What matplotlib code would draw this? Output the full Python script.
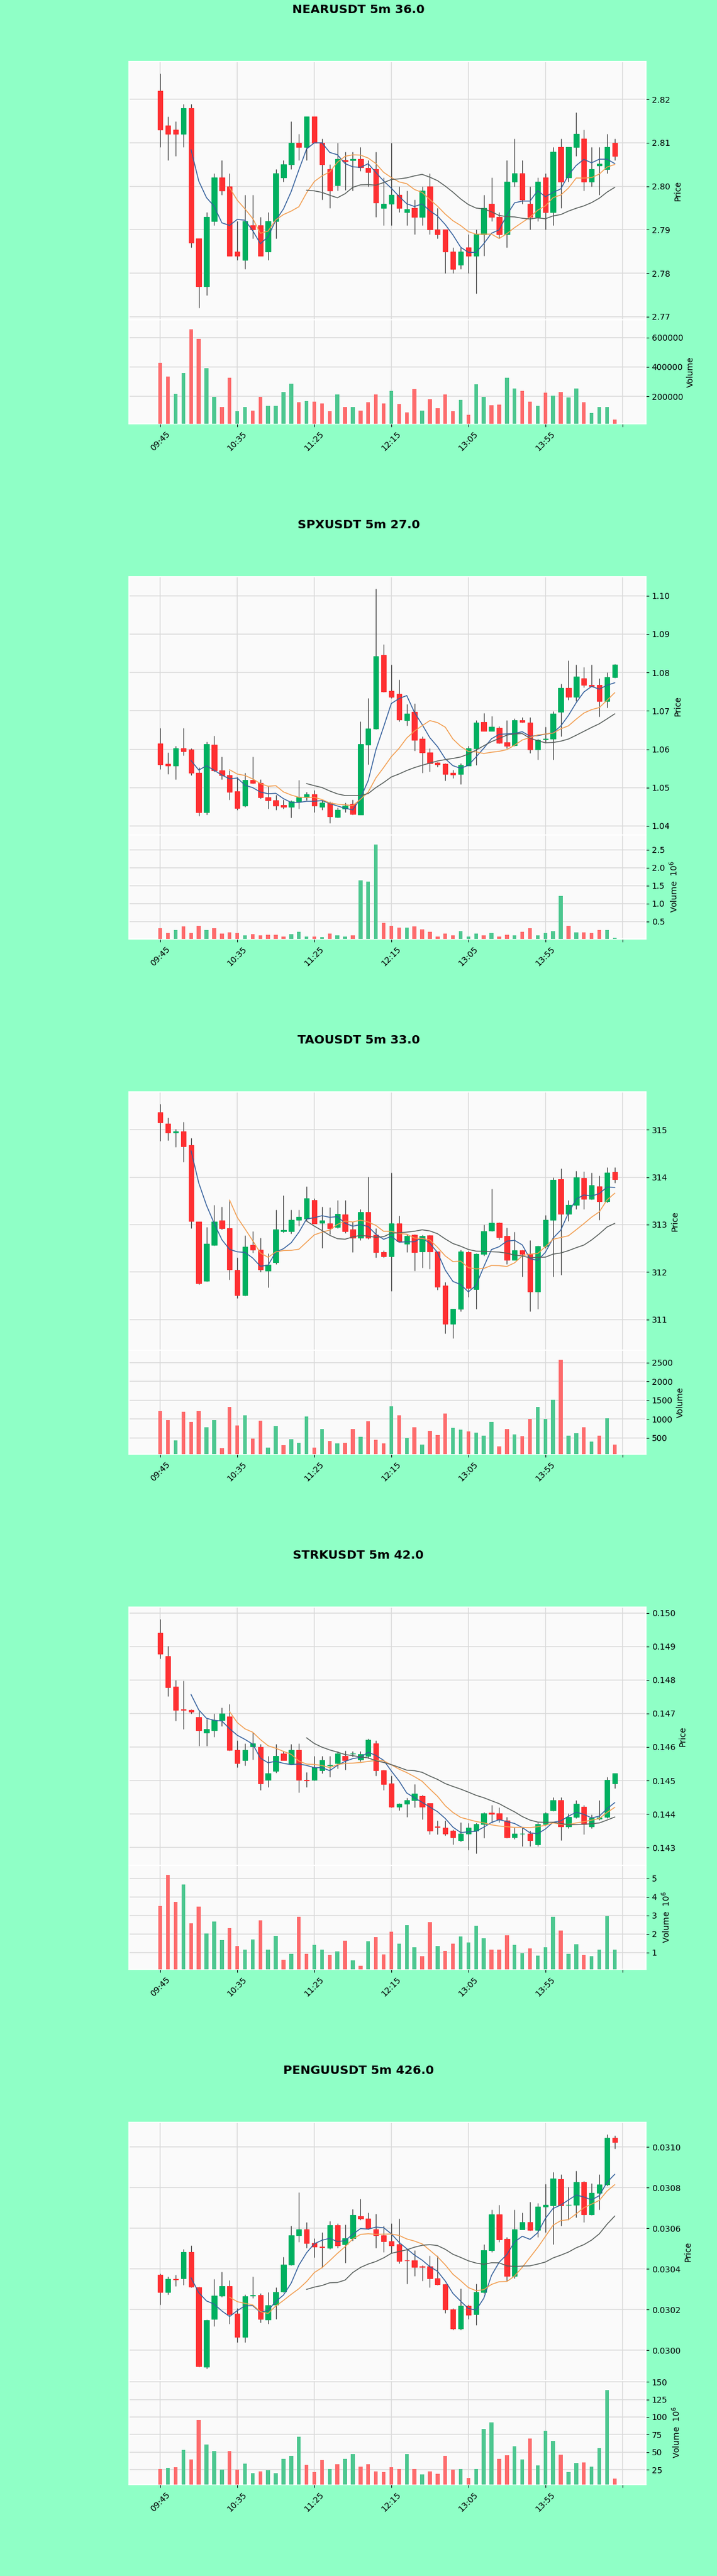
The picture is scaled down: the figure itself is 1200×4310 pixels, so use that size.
import matplotlib
matplotlib.use('Agg')
import matplotlib.pyplot as plt
import numpy as np
import pandas as pd

# ---- chart data (5 minute candles, 09:45 onwards) ----
tick_pos = [0, 10, 20, 30, 40, 50, 60]
tick_labels = ['09:45', '10:35', '11:25', '12:15', '13:05', '13:55', '']

titles = ['NEARUSDT 5m 36.0', 'SPXUSDT 5m 27.0', 'TAOUSDT 5m 33.0',
          'STRKUSDT 5m 42.0', 'PENGUUSDT 5m 426.0']

near_open = [2.822, 2.814, 2.813, 2.812, 2.818, 2.788, 2.777, 2.792, 2.802, 2.800,
             2.785, 2.783, 2.791, 2.791, 2.785, 2.792, 2.802, 2.805, 2.810, 2.809,
             2.816, 2.810, 2.804, 2.8002, 2.806, 2.806, 2.8063, 2.8042, 2.804, 2.795,
             2.796, 2.798, 2.794, 2.795, 2.793, 2.800, 2.790, 2.790, 2.785, 2.782,
             2.786, 2.784, 2.789, 2.796, 2.793, 2.789, 2.801, 2.803, 2.796, 2.793,
             2.802, 2.794, 2.809, 2.802, 2.809, 2.811, 2.801, 2.8048, 2.804, 2.810]
near_high = [2.826, 2.816, 2.815, 2.819, 2.819, 2.788, 2.794, 2.803, 2.806, 2.803,
             2.792, 2.798, 2.798, 2.793, 2.794, 2.804, 2.806, 2.815, 2.812, 2.816,
             2.816, 2.811, 2.805, 2.810, 2.808, 2.808, 2.809, 2.806, 2.808, 2.802,
             2.810, 2.800, 2.799, 2.797, 2.800, 2.803, 2.795, 2.790, 2.786, 2.786,
             2.789, 2.790, 2.798, 2.802, 2.794, 2.806, 2.811, 2.806, 2.800, 2.802,
             2.803, 2.809, 2.811, 2.809, 2.817, 2.813, 2.809, 2.809, 2.812, 2.811]
near_low = [2.809, 2.806, 2.807, 2.809, 2.786, 2.772, 2.775, 2.791, 2.798, 2.784,
            2.783, 2.781, 2.788, 2.784, 2.783, 2.788, 2.801, 2.804, 2.806, 2.806,
            2.810, 2.797, 2.795, 2.799, 2.7992, 2.799, 2.8035, 2.800, 2.793, 2.791,
            2.791, 2.794, 2.791, 2.789, 2.791, 2.789, 2.788, 2.780, 2.780, 2.781,
            2.780, 2.7754, 2.784, 2.792, 2.788, 2.786, 2.800, 2.796, 2.790, 2.792,
            2.790, 2.791, 2.795, 2.801, 2.807, 2.799, 2.800, 2.798, 2.803, 2.806]
near_close = [2.813, 2.812, 2.812, 2.818, 2.787, 2.777, 2.793, 2.802, 2.799, 2.784,
              2.784, 2.792, 2.790, 2.784, 2.792, 2.803, 2.805, 2.810, 2.809, 2.816,
              2.810, 2.805, 2.799, 2.8063, 2.8058, 2.8063, 2.8044, 2.8032, 2.7962, 2.7960,
              2.798, 2.795, 2.7948, 2.793, 2.799, 2.790, 2.789, 2.785, 2.781, 2.785,
              2.784, 2.789, 2.795, 2.793, 2.789, 2.801, 2.803, 2.797, 2.793, 2.801,
              2.794, 2.808, 2.801, 2.809, 2.812, 2.801, 2.804, 2.8052, 2.809, 2.807]
near_volume = [427000, 335000, 218000, 360000, 656000, 590000, 390000, 197000, 128000, 328000,
               100000, 128000, 103000, 197000, 135000, 135000, 228000, 287000, 159000, 167000,
               163000, 153000, 100000, 214000, 126000, 128000, 103000, 159000, 214000, 152000,
               236000, 149000, 91000, 250000, 103000, 181000, 117000, 214000, 100000, 177000,
               73000, 280000, 197000, 139000, 145000, 328000, 252000, 236000, 163000, 135000,
               225000, 204000, 228000, 193000, 252000, 159000, 87000, 126000, 126000, 43000]

spx_open = [1.0615, 1.0562, 1.0557, 1.0603, 1.0599, 1.0539, 1.0436, 1.0611, 1.0544, 1.0532,
            1.0490, 1.0452, 1.0520, 1.0512, 1.0474, 1.0467, 1.0454, 1.0450, 1.0463, 1.0474,
            1.0482, 1.0450, 1.0460, 1.0423, 1.0445, 1.0458, 1.0430, 1.0611, 1.0654, 1.0846,
            1.0752, 1.0744, 1.0675, 1.0698, 1.0627, 1.0592, 1.0565, 1.0562, 1.0538, 1.0535,
            1.0557, 1.0602, 1.0671, 1.0648, 1.0656, 1.0618, 1.0610, 1.0675, 1.0669, 1.0599,
            1.0625, 1.0627, 1.0698, 1.0760, 1.0737, 1.0784, 1.0767, 1.0768, 1.0725, 1.0788]
spx_high = [1.0656, 1.0592, 1.0609, 1.0656, 1.0603, 1.0553, 1.0619, 1.0635, 1.0580, 1.0544,
            1.0528, 1.0538, 1.0581, 1.0522, 1.0502, 1.0481, 1.0469, 1.0467, 1.0520, 1.0488,
            1.0494, 1.0467, 1.0464, 1.0448, 1.0461, 1.0469, 1.0673, 1.0733, 1.1019, 1.0873,
            1.0820, 1.0782, 1.0717, 1.0720, 1.0633, 1.0602, 1.0566, 1.0564, 1.0547, 1.0563,
            1.0608, 1.0675, 1.0695, 1.0686, 1.0660, 1.0675, 1.0680, 1.0684, 1.0684, 1.0627,
            1.0659, 1.0699, 1.0771, 1.0832, 1.0820, 1.0815, 1.0820, 1.0784, 1.0801, 1.0822]
spx_low = [1.0548, 1.0535, 1.0522, 1.0583, 1.0532, 1.0426, 1.0430, 1.0541, 1.0522, 1.0468,
           1.0442, 1.0449, 1.0510, 1.0471, 1.0445, 1.0442, 1.0445, 1.0422, 1.0445, 1.0467,
           1.0436, 1.0442, 1.0407, 1.0422, 1.0436, 1.0430, 1.0430, 1.0560, 1.0653, 1.0749,
           1.0733, 1.0672, 1.0662, 1.0596, 1.0538, 1.0541, 1.0554, 1.0518, 1.0525, 1.0509,
           1.0557, 1.0559, 1.0647, 1.0647, 1.0615, 1.0602, 1.0609, 1.0669, 1.0590, 1.0573,
           1.0616, 1.0573, 1.0634, 1.0729, 1.0726, 1.0761, 1.0763, 1.0685, 1.0708, 1.0786]
spx_close = [1.0560, 1.0557, 1.0603, 1.0594, 1.0538, 1.0436, 1.0613, 1.0544, 1.0532, 1.0488,
             1.0447, 1.0520, 1.0512, 1.0474, 1.0467, 1.0452, 1.0450, 1.0463, 1.0474, 1.0482,
             1.0452, 1.0460, 1.0424, 1.0442, 1.0452, 1.0431, 1.0613, 1.0654, 1.0843, 1.0750,
             1.0736, 1.0677, 1.0693, 1.0624, 1.0592, 1.0564, 1.0560, 1.0535, 1.0534, 1.0558,
             1.0603, 1.0669, 1.0648, 1.0658, 1.0616, 1.0608, 1.0675, 1.0671, 1.0599, 1.0624,
             1.0627, 1.0693, 1.0760, 1.0737, 1.0789, 1.0767, 1.0765, 1.0725, 1.0788, 1.0821]
spx_volume = [310000, 190000, 270000, 370000, 190000, 390000, 270000, 310000, 170000, 200000,
              190000, 120000, 150000, 120000, 140000, 140000, 90000, 150000, 220000, 90000,
              90000, 70000, 160000, 120000, 90000, 120000, 1650000, 1610000, 2650000, 460000,
              390000, 340000, 340000, 360000, 290000, 220000, 90000, 160000, 120000, 240000,
              90000, 160000, 120000, 190000, 90000, 140000, 120000, 220000, 310000, 120000,
              180000, 240000, 1220000, 390000, 200000, 200000, 180000, 260000, 270000, 50000]

tao_open = [315.37, 315.13, 314.94, 314.97, 314.67, 313.06, 311.81, 312.57, 313.09, 312.92,
            312.04, 311.51, 312.57, 312.47, 312.03, 312.20, 312.86, 312.86, 313.10, 313.12,
            313.52, 313.04, 313.03, 312.95, 313.21, 312.90, 312.72, 313.26, 312.78, 312.42,
            312.33, 313.03, 312.60, 312.78, 312.43, 312.77, 312.43, 311.71, 310.91, 311.22,
            312.42, 311.64, 312.38, 312.87, 313.04, 312.76, 312.25, 312.46, 312.38, 311.59,
            312.55, 313.10, 313.96, 313.23, 313.41, 313.98, 313.54, 313.81, 313.49, 314.11]
tao_high = [315.55, 315.25, 315.02, 315.17, 314.83, 313.06, 312.95, 313.41, 313.38, 313.51,
            312.30, 312.77, 312.86, 312.72, 312.40, 313.31, 313.62, 313.31, 313.31, 313.80,
            313.56, 313.38, 313.36, 313.52, 313.52, 313.06, 313.33, 314.01, 312.92, 312.46,
            314.09, 313.19, 312.80, 312.80, 312.78, 312.78, 312.43, 311.79, 311.22, 312.47,
            312.45, 312.40, 313.00, 313.75, 313.05, 312.94, 312.85, 312.47, 312.67, 312.56,
            313.20, 314.00, 314.19, 313.51, 314.14, 314.12, 314.10, 314.03, 314.21, 314.21]
tao_low = [314.76, 314.78, 314.64, 314.32, 312.92, 311.74, 311.80, 312.56, 312.90, 311.84,
           311.45, 311.50, 312.41, 312.00, 311.67, 312.17, 312.83, 312.81, 312.98, 313.08,
           313.02, 312.51, 312.80, 312.92, 312.82, 312.42, 312.67, 312.70, 312.30, 312.30,
           311.60, 312.63, 312.42, 312.03, 312.09, 312.07, 311.63, 310.71, 310.60, 311.17,
           311.47, 311.22, 312.35, 312.86, 312.69, 312.17, 312.25, 311.90, 311.17, 311.22,
           312.51, 311.90, 311.94, 313.07, 313.33, 313.33, 313.53, 313.10, 313.47, 313.88]
tao_close = [315.16, 314.94, 314.96, 314.65, 313.07, 311.77, 312.59, 313.06, 312.92, 312.05,
             311.51, 312.53, 312.47, 312.05, 312.16, 312.90, 312.88, 313.10, 313.16, 313.56,
             313.03, 313.09, 312.93, 313.23, 312.86, 312.72, 313.26, 312.72, 312.42, 312.33,
             313.03, 312.65, 312.76, 312.42, 312.76, 312.43, 311.69, 310.91, 311.22, 312.43,
             311.66, 312.38, 312.86, 313.04, 312.73, 312.25, 312.46, 312.38, 311.59, 312.55,
             313.10, 313.95, 313.23, 313.41, 314.00, 313.54, 313.83, 313.49, 314.10, 313.96]
tao_volume = [1218, 977, 436, 1199, 925, 1218, 782, 977, 228, 1329,
              827, 1107, 482, 958, 241, 808, 306, 469, 371, 1068,
              241, 730, 423, 358, 371, 730, 534, 938, 456, 358,
              1336, 1107, 502, 775, 319, 684, 580, 1153, 762, 717,
              678, 632, 567, 925, 274, 730, 599, 547, 1010, 1316,
              1003, 1511, 2573, 554, 619, 782, 404, 567, 1023, 326]

strk_open = [0.14940, 0.14871, 0.14780, 0.14712, 0.14710, 0.14689, 0.14642, 0.14649, 0.14680, 0.14691,
             0.14591, 0.14560, 0.14602, 0.14600, 0.14501, 0.14529, 0.14580, 0.14550, 0.14591, 0.14502,
             0.14501, 0.14531, 0.14545, 0.14551, 0.14573, 0.14580, 0.14562, 0.14573, 0.14610, 0.14531,
             0.14491, 0.14421, 0.14431, 0.14442, 0.14453, 0.14432, 0.14362, 0.14360, 0.14351, 0.14322,
             0.14341, 0.14351, 0.14370, 0.14403, 0.14402, 0.14380, 0.14331, 0.14341, 0.14341, 0.14309,
             0.14370, 0.14411, 0.14442, 0.14362, 0.14391, 0.14421, 0.14362, 0.14386, 0.14391, 0.14491]
strk_high = [0.14982, 0.14902, 0.14800, 0.14798, 0.14712, 0.14707, 0.14683, 0.14700, 0.14718, 0.14729,
             0.14620, 0.14610, 0.14642, 0.14609, 0.14573, 0.14609, 0.14587, 0.14609, 0.14611, 0.14525,
             0.14573, 0.14573, 0.14573, 0.14587, 0.14589, 0.14587, 0.14587, 0.14625, 0.14620, 0.14533,
             0.14514, 0.14433, 0.14449, 0.14489, 0.14458, 0.14432, 0.14380, 0.14380, 0.14354, 0.14376,
             0.14373, 0.14373, 0.14405, 0.14427, 0.14420, 0.14391, 0.14360, 0.14360, 0.14351, 0.14376,
             0.14405, 0.14451, 0.14451, 0.14402, 0.14442, 0.14427, 0.14398, 0.14442, 0.14511, 0.14522]
strk_low = [0.14864, 0.14751, 0.14678, 0.14653, 0.14700, 0.14603, 0.14603, 0.14631, 0.14663, 0.14589,
            0.14540, 0.14545, 0.14562, 0.14471, 0.14480, 0.14523, 0.14560, 0.14548, 0.14464, 0.14480,
            0.14500, 0.14522, 0.14511, 0.14536, 0.14533, 0.14572, 0.14558, 0.14566, 0.14514, 0.14471,
            0.14420, 0.14411, 0.14391, 0.14420, 0.14384, 0.14340, 0.14340, 0.14336, 0.14309, 0.14318,
            0.14293, 0.14282, 0.14329, 0.14373, 0.14376, 0.14329, 0.14325, 0.14304, 0.14304, 0.14304,
            0.14367, 0.14409, 0.14322, 0.14358, 0.14387, 0.14340, 0.14358, 0.14383, 0.14387, 0.14477]
strk_close = [0.14878, 0.14778, 0.14710, 0.14711, 0.14705, 0.14649, 0.14653, 0.14680, 0.14700, 0.14591,
              0.14551, 0.14591, 0.14610, 0.14491, 0.14522, 0.14573, 0.14560, 0.14591, 0.14501, 0.14500,
              0.14540, 0.14560, 0.14546, 0.14580, 0.14560, 0.14581, 0.14579, 0.14622, 0.14531, 0.14489,
              0.14421, 0.14431, 0.14442, 0.14460, 0.14421, 0.14351, 0.14361, 0.14341, 0.14331, 0.14341,
              0.14360, 0.14370, 0.14402, 0.14401, 0.14384, 0.14331, 0.14341, 0.14342, 0.14322, 0.14370,
              0.14402, 0.14442, 0.14362, 0.14391, 0.14431, 0.14370, 0.14387, 0.14390, 0.14501, 0.14522]
strk_volume = [3510000, 5190000, 3740000, 4660000, 2560000, 3470000, 2020000, 2680000, 1660000, 2300000,
               1330000, 1140000, 1690000, 2720000, 1140000, 1890000, 610000, 910000, 2940000, 940000,
               1400000, 1140000, 870000, 1040000, 1620000, 580000, 280000, 1600000, 1820000, 900000,
               2130000, 1470000, 2480000, 1290000, 810000, 2650000, 1360000, 1100000, 1490000, 1860000,
               1530000, 2460000, 1760000, 1140000, 1160000, 1930000, 1400000, 960000, 1230000, 830000,
               1270000, 2920000, 2190000, 910000, 1430000, 870000, 810000, 1140000, 2960000, 1140000]

pengu_open = [0.030372, 0.030286, 0.030350, 0.030352, 0.030484, 0.030310, 0.029918, 0.030153, 0.030267, 0.030316,
              0.030181, 0.030065, 0.030268, 0.030270, 0.030149, 0.030225, 0.030289, 0.030422, 0.030566, 0.030595,
              0.030527, 0.030508, 0.030502, 0.030614, 0.030520, 0.030551, 0.030659, 0.030647, 0.030595, 0.030566,
              0.030535, 0.030520, 0.030442, 0.030442, 0.030411, 0.030412, 0.030352, 0.030325, 0.030201, 0.030105,
              0.030219, 0.030177, 0.030286, 0.030490, 0.030667, 0.030547, 0.030366, 0.030595, 0.030631, 0.030590,
              0.030707, 0.030713, 0.030840, 0.030715, 0.030716, 0.030828, 0.030667, 0.030773, 0.030816, 0.031045]
pengu_high = [0.030376, 0.030361, 0.030370, 0.030496, 0.030514, 0.030312, 0.030150, 0.030349, 0.030386, 0.030343,
              0.030207, 0.030274, 0.030361, 0.030279, 0.030286, 0.030310, 0.030460, 0.030611, 0.030776, 0.030629,
              0.030551, 0.030580, 0.030635, 0.030623, 0.030617, 0.030694, 0.030743, 0.030677, 0.030671, 0.030611,
              0.030623, 0.030647, 0.030496, 0.030490, 0.030418, 0.030466, 0.030466, 0.030328, 0.030207, 0.030303,
              0.030225, 0.030328, 0.030520, 0.030691, 0.030715, 0.030556, 0.030691, 0.030677, 0.030731, 0.030725,
              0.030819, 0.030876, 0.030864, 0.030804, 0.030882, 0.030834, 0.030822, 0.030864, 0.031063, 0.031057]
pengu_low = [0.030225, 0.030274, 0.030316, 0.030322, 0.030310, 0.029918, 0.029908, 0.030117, 0.030261, 0.030129,
             0.030039, 0.030039, 0.030255, 0.030135, 0.030129, 0.030153, 0.030286, 0.030418, 0.030533, 0.030503,
             0.030455, 0.030407, 0.030496, 0.030502, 0.030431, 0.030539, 0.030641, 0.030593, 0.030502, 0.030482,
             0.030478, 0.030427, 0.030328, 0.030364, 0.030340, 0.030310, 0.030322, 0.030183, 0.030099, 0.030100,
             0.030153, 0.030123, 0.030280, 0.030484, 0.030533, 0.030342, 0.030352, 0.030593, 0.030587, 0.030556,
             0.030580, 0.030521, 0.030611, 0.030641, 0.030653, 0.030629, 0.030665, 0.030692, 0.030810, 0.030990]
pengu_close = [0.030286, 0.030349, 0.030347, 0.030484, 0.030313, 0.029920, 0.030147, 0.030267, 0.030316, 0.030177,
               0.030065, 0.030265, 0.030272, 0.030153, 0.030222, 0.030286, 0.030422, 0.030566, 0.030595, 0.030527,
               0.030508, 0.030507, 0.030614, 0.030514, 0.030551, 0.030665, 0.030647, 0.030599, 0.030566, 0.030535,
               0.030514, 0.030439, 0.030441, 0.030410, 0.030410, 0.030354, 0.030325, 0.030201, 0.030105, 0.030219,
               0.030174, 0.030286, 0.030490, 0.030667, 0.030545, 0.030364, 0.030595, 0.030631, 0.030590, 0.030707,
               0.030716, 0.030843, 0.030713, 0.030716, 0.030828, 0.030667, 0.030773, 0.030816, 0.031045, 0.031024]
pengu_volume = [26.2e6, 27.3e6, 28.3e6, 52.8e6, 39.5e6, 95.5e6, 60.5e6, 51.7e6, 24.8e6, 51.7e6,
                24.8e6, 33.2e6, 20.3e6, 22.7e6, 23.8e6, 20.3e6, 40.2e6, 44.8e6, 72.0e6, 31.5e6,
                22.0e6, 38.8e6, 26.2e6, 32.5e6, 40.2e6, 47.6e6, 29.7e6, 32.5e6, 22.7e6, 21.3e6,
                28.3e6, 26.2e6, 47.6e6, 25.5e6, 18.5e6, 22.7e6, 19.2e6, 44.8e6, 24.8e6, 26.2e6,
                13.3e6, 26.2e6, 83.2e6, 92.7e6, 40.6e6, 45.5e6, 58.0e6, 39.5e6, 69.2e6, 30.8e6,
                80.8e6, 65.7e6, 46.5e6, 22.0e6, 34.3e6, 35.0e6, 29.0e6, 55.9e6, 138.1e6, 12.6e6]

ma_periods = [5, 10, 20]

# ---- style ----
BG = '#8fffc6'
FACE = '#fafafa'
GRID = '#dadada'
UP = '#00b060'
DOWN = '#fe3032'
VUP = '#4dc790'
VDOWN = '#fd6b6c'
WICK = '#3a3a3a'
MA_COLORS = ['#34609c', '#f29d4f', '#585f5c']

W, H = 1200, 4310
BLOCK = 862

fig = plt.figure(figsize=(W / 100, H / 100), dpi=100, facecolor=BG)


def frac_box(left, top, right, bottom):
    return [left / W, 1 - bottom / H, (right - left) / W, (bottom - top) / H]


def style_axes(ax):
    ax.set_facecolor(FACE)
    for s in ax.spines.values():
        s.set_color('white')
        s.set_linewidth(1.5)
    ax.grid(True, color=GRID, linewidth=1.1)
    ax.set_axisbelow(True)
    ax.yaxis.tick_right()
    ax.yaxis.set_label_position('right')
    ax.tick_params(labelsize=10, colors='black')


def draw_panel(k, title, o, h, l, c, v):
    o, h, l, c, v = map(np.asarray, (o, h, l, c, v))
    n = len(c)
    x = np.arange(n)
    top = k * BLOCK

    fig.text(0.5, 1 - (top + 16) / H, title, ha='center', va='center',
             fontsize=14.5, fontweight='bold')

    ax = fig.add_axes(frac_box(216, top + 103, 1081, top + 535))
    axv = fig.add_axes(frac_box(216, top + 535, 1081, top + 709), sharex=ax)
    style_axes(ax)
    style_axes(axv)

    # candles
    up = c >= o
    ccol = np.where(up, UP, DOWN)
    ax.vlines(x, l, h, color=WICK, linewidth=0.9, zorder=2)
    ax.bar(x, np.abs(c - o), bottom=np.minimum(o, c), width=0.65,
           color=ccol, edgecolor=ccol, linewidth=0.8, zorder=3)

    # moving averages
    for p, col in zip(ma_periods, MA_COLORS):
        ma = pd.Series(c).rolling(p).mean()
        ax.plot(x, ma, color=col, linewidth=1.1, zorder=4)

    pad = 0.05 * (h.max() - l.min())
    ax.set_ylim(l.min() - pad, h.max() + pad)
    xpad = 0.05 * (n + 1)
    ax.set_xlim(-1 - xpad, n + xpad)
    ax.set_ylabel('Price', fontsize=10)

    # volume, coloured by close vs previous close
    prev = np.concatenate([[o[0]], c[:-1]])
    vcol = np.where(c >= prev, VUP, VDOWN)
    axv.bar(x, v, width=0.5, color=vcol, zorder=3)
    axv.set_ylim(0.3 * v.min(), 1.1 * v.max())
    label = 'Volume'
    if 1.1 * v.max() >= 1e6:
        axv.ticklabel_format(axis='y', style='sci', scilimits=(6, 6), useOffset=False)
        axv.yaxis.offsetText.set_visible(False)
        label = 'Volume  $10^{6}$'
    axv.set_ylabel(label, fontsize=10)

    axv.set_xticks(tick_pos)
    axv.set_xticklabels(tick_labels, rotation=45)
    plt.setp(ax.get_xticklabels(), visible=False)
    ax.tick_params(axis='x', length=0)


draw_panel(0, titles[0], near_open, near_high, near_low, near_close, near_volume)
draw_panel(1, titles[1], spx_open, spx_high, spx_low, spx_close, spx_volume)
draw_panel(2, titles[2], tao_open, tao_high, tao_low, tao_close, tao_volume)
draw_panel(3, titles[3], strk_open, strk_high, strk_low, strk_close, strk_volume)
draw_panel(4, titles[4], pengu_open, pengu_high, pengu_low, pengu_close, pengu_volume)

fig.savefig('out.png', dpi=100, facecolor=BG)
